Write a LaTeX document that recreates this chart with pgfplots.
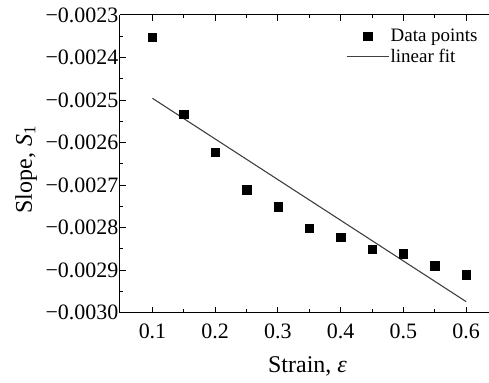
\documentclass[border=0pt]{standalone}
\usepackage{fontspec}
\setmainfont{Liberation Serif}
\usepackage{pgfplots}
\pgfplotsset{compat=1.18}
\begin{document}
\begin{tikzpicture}
\begin{axis}[
  scale only axis,
  width=369pt, height=298pt,
  xmin=0.048, xmax=0.6357,
  ymin=-0.0030, ymax=-0.0023,
  axis y line*=left,
  axis line style={line width=1pt},
  xtick={0.1,0.2,0.3,0.4,0.5,0.6},
  xticklabels={0.1,0.2,0.3,0.4,0.5,0.6},
  minor xtick={0.15,0.25,0.35,0.45,0.55},
  ytick={-0.0030,-0.0029,-0.0028,-0.0027,-0.0026,-0.0025,-0.0024,-0.0023},
  yticklabels={−0.0030,−0.0029,−0.0028,−0.0027,−0.0026,−0.0025,−0.0024,−0.0023},
  minor ytick={-0.00295,-0.00285,-0.00275,-0.00265,-0.00255,-0.00245,-0.00235},
  scaled y ticks=false,
  tick align=inside,
  major tick length=6pt, minor tick length=3.5pt,
  tick style={line width=1pt, black},
  xtick pos=both,
  ticklabel style={font=\fontsize{22}{24}\selectfont},
  xticklabel style={anchor=center, yshift=-18.5pt},
  yticklabel style={xshift=2pt},
  xlabel={Strain, \textit{ε}},
  ylabel={Slope, \textit{S}\textsubscript{1}},
  label style={font=\fontsize{24}{26}\selectfont},
  xlabel style={at={(axis description cs:0.509,-0.181)}, anchor=center},
  ylabel style={at={(axis description cs:-0.2547,0.48)}, anchor=center},
  legend style={draw=none, fill=none, at={(0.605,0.965)}, anchor=north west,
    font=\fontsize{19}{21}\selectfont, row sep=3pt,
    nodes={inner sep=1.5pt}},
  legend cell align=left,
  legend image code/.code={\draw[mark repeat=2,mark phase=2,#1] plot coordinates {(0pt,0pt) (21pt,0pt) (42pt,0pt)};},
]
\addplot[only marks, mark=square*, mark size=4.2pt, black] coordinates {
(0.10,-0.002352) (0.15,-0.002533) (0.20,-0.002622) (0.25,-0.002711)
(0.30,-0.002751) (0.35,-0.002801) (0.40,-0.002822) (0.45,-0.002851)
(0.50,-0.002861) (0.55,-0.002890) (0.60,-0.002911)};
\addlegendentry{Data points}
\addplot[line width=1.1pt, color=black!75] coordinates {(0.10,-0.002496) (0.60,-0.002974)};
\addlegendentry{linear fit}
\end{axis}
\useasboundingbox ([shift={(-120pt,-70pt)}]current axis.south west) rectangle ([shift={(0pt,15pt)}]current axis.north east);
\end{tikzpicture}
\end{document}
